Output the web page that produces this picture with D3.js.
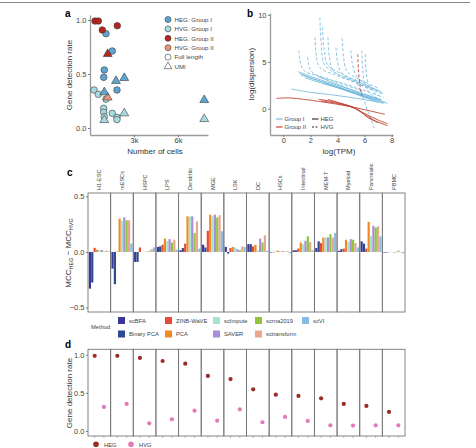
<!DOCTYPE html>
<html>
<head>
<meta charset="utf-8">
<script src="https://cdn.jsdelivr.net/npm/d3@7"></script>
<style>
  body { margin: 0; background: #fff; }
  svg text { font-family: "Liberation Sans", Arial, sans-serif; fill: #333; }
</style>
</head>
<body>
<div id="fig"></div>
<script>
// ---------- data ----------
// panel a: cells vs gene detection rate
const aPoints = [
  // HVG group I, full length
  {cells: 273, rate: 0.352, type: "HVG: Group I", proto: "full"},
  {cells: 566, rate: 0.312, type: "HVG: Group I", proto: "full"},
  {cells: 934, rate: 0.182, type: "HVG: Group I", proto: "full"},
  {cells: 934, rate: 0.145, type: "HVG: Group I", proto: "full"},
  {cells: 975, rate: 0.105, type: "HVG: Group I", proto: "full"},
  {cells: 1091, rate: 0.267, type: "HVG: Group I", proto: "full"},
  {cells: 1520, rate: 0.136, type: "HVG: Group I", proto: "full"},
  {cells: 1841, rate: 0.099, type: "HVG: Group I", proto: "full"},
  {cells: 1841, rate: 0.078, type: "HVG: Group I", proto: "full"},
  // HVG group I, UMI
  {cells: 975, rate: 0.074, type: "HVG: Group I", proto: "umi"},
  {cells: 2339, rate: 0.136, type: "HVG: Group I", proto: "umi"},
  {cells: 7793, rate: 0.083, type: "HVG: Group I", proto: "umi"},
  // HVG group II
  {cells: 1207, rate: 0.283, type: "HVG: Group II", proto: "umi"},
  // HEG group I
  {cells: 1091, rate: 0.873, type: "HEG: Group I", proto: "full"},
  {cells: 1520, rate: 0.713, type: "HEG: Group I", proto: "full"},
  {cells: 975, rate: 0.537, type: "HEG: Group I", proto: "full"},
  {cells: 934, rate: 0.469, type: "HEG: Group I", proto: "full"},
  {cells: 1841, rate: 0.352, type: "HEG: Group I", proto: "full"},
  {cells: 1773, rate: 0.435, type: "HEG: Group I", proto: "umi"},
  {cells: 2339, rate: 0.463, type: "HEG: Group I", proto: "umi"},
  {cells: 975, rate: 0.331, type: "HEG: Group I", proto: "umi"},
  {cells: 7793, rate: 0.259, type: "HEG: Group I", proto: "umi"},
  // HEG group II
  {cells: 341, rate: 0.99, type: "HEG: Group II", proto: "full"},
  {cells: 566, rate: 0.99, type: "HEG: Group II", proto: "full"},
  {cells: 839, rate: 0.907, type: "HEG: Group II", proto: "full"},
  {cells: 1861, rate: 0.947, type: "HEG: Group II", proto: "full"},
  {cells: 1207, rate: 0.685, type: "HEG: Group II", proto: "umi"}
];
const aTypes = ["HEG: Group I", "HVG: Group I", "HEG: Group II", "HVG: Group II"];
const aTypeColors = ["#5ea6d0", "#a8dbe0", "#b3261e", "#ef9478"];

// panel b: log(TPM) vs log(dispersion) curves
const bG1Heg = [
  [[1.1,3.95],[2.5,3.2],[4,2.5],[5.5,1.8],[7.3,0.9]],
  [[1.2,3.75],[2.5,3.05],[4,2.35],[5.5,1.6],[7.5,0.7]],
  [[1.3,3.6],[3,2.8],[4.5,2.1],[6,1.3],[7.4,0.55]],
  [[1.6,3.3],[3,2.65],[5,1.85],[6.5,1.15],[7.2,0.85]],
  [[0.6,2.1],[2,1.75],[3.5,1.5],[5,1.2],[6.5,0.85],[7.7,0.6]],
  [[2.6,3.4],[4,2.6],[5.5,1.75],[7,1.05]],
  [[3,2.7],[4.5,2.0],[6,1.25],[7.2,0.95]],
  [[4,2.25],[5.5,1.5],[7,0.65]]
];
const bG1Hvg = [
  [[1.15,6.2],[1.25,5],[1.5,4.1],[2.5,3.5],[4,2.8],[6,1.8]],
  [[1.8,5.5],[1.9,4.5],[2.2,3.8],[3.5,3.1],[5.5,2.2],[7,1.4]],
  [[2.35,7.6],[2.45,5.5],[2.7,4.4],[4,3.5],[5.5,2.7],[7.2,1.6]],
  [[2.7,9.7],[2.8,7],[3,4.8],[3.6,4.0],[5,3.1],[6.5,2.2],[7.5,1.5]],
  [[2.9,8.7],[3.0,6.5],[3.3,4.6],[4.5,3.6],[6,2.6],[7.2,1.8]],
  [[3.3,7.6],[3.4,5.5],[3.7,4.0],[5,3.0],[6.5,2.0]],
  [[3.9,6.5],[4.0,5.0],[4.3,3.8],[5.3,3.0],[6.8,2.0]],
  [[4.35,7.5],[4.45,5.5],[4.7,4.0],[5.5,3.2],[7,2.2]],
  [[5.0,6.2],[5.1,4.8],[5.4,3.5],[6.2,2.5],[7.3,1.8]],
  [[5.8,6.2],[5.85,4.5],[6.0,2.8],[6.4,1.6],[7.2,1.0]],
  [[6.05,5.8],[6.1,4.2],[6.3,2.6],[6.8,1.6],[7.4,1.2]],
  [[5.3,3.2],[5.8,1.5],[6.3,-0.5],[6.75,-2.2]]
];
const bG2Heg = [
  [[-0.5,1.1],[0.5,1.15],[1.5,1.0],[3,0.7],[4.5,0.35],[6,-0.1],[7.5,-0.6]],
  [[2.6,1.0],[3.5,0.8],[4.5,0.45],[5.3,0.05],[6,-0.6],[6.8,-1.3],[7.7,-1.8]],
  [[2.8,0.85],[4,0.55],[5,0.2],[6,-0.5],[7,-1.2],[7.7,-1.6]],
  [[3.3,1.0],[4.2,0.6],[5,0.25],[5.6,-0.2],[6.2,-0.9],[7,-1.5]]
];
const bG2Hvg = [
  [[5.5,5.8],[5.55,4.2],[5.65,2.6],[5.8,1.4]]
];

// panel c: MCC difference per dataset and method
const datasets = ["H1-ESC","mESCs","HSPC","LPS","Dendritic","MGE","LSK","DC","HSCs","Intestinal","MEM-T","Myeloid","Pancreatic","PBMC"];
const methods = ["scBFA","Binary PCA","ZINB-WaVE","PCA","scImpute","SAVER","scrna2019","sctransform","scVI"];
const methodColors = ["#3a3796","#2d4b8e","#e84a3a","#f28a22","#a7e3d1","#a88edb","#8fc43c","#e9a78f","#87bde5"];
const mccDiff = [
  [-0.33, -0.275, 0.037, 0.02, 0.018, 0.018, 0.004, 0.012, 0.006],
  [-0.15, -0.29, 0.004, 0.30, 0.28, 0.31, 0.285, 0.285, 0.075],
  [-0.09, -0.09, 0.04, 0.0, 0.002, 0.003, 0.01, 0.025, 0.04],
  [0.045, 0.05, 0.065, 0.12, 0.10, 0.115, 0.085, 0.11, 0.02],
  [0.015, 0.035, 0.075, 0.32, 0.32, 0.32, 0.17, 0.275, 0.03],
  [0.065, 0.04, 0.19, 0.335, 0.32, 0.335, 0.31, 0.33, 0.186],
  [0.045, -0.015, 0.035, 0.045, 0.04, 0.025, 0.015, 0.05, 0.045],
  [0.07, 0.07, 0.05, 0.065, 0.015, 0.12, 0.085, 0.15, 0.01],
  [-0.005, -0.003, 0.003, 0.012, 0.004, 0.008, 0.003, 0.009, -0.012],
  [0.015, 0.015, 0.03, 0.085, 0.07, 0.1, 0.14, 0.09, 0.015],
  [0.035, 0.095, 0.08, 0.13, 0.13, 0.13, 0.16, 0.13, 0.17],
  [0.01, 0.025, 0.03, 0.11, 0.09, 0.115, 0.11, 0.08, 0.04],
  [0.095, 0.075, 0.03, 0.27, 0.145, 0.235, 0.22, 0.23, 0.14],
  [-0.005, -0.005, -0.002, -0.002, -0.008, -0.004, 0.012, -0.004, -0.012]
];

// panel d: gene detection rate per dataset
const hegRate = [0.985,0.985,0.957,0.917,0.882,0.721,0.68,0.546,0.476,0.459,0.428,0.354,0.328,0.249];
const hvgRate = [0.315,0.354,0.10,0.153,0.266,0.135,0.284,0.114,0.184,0.131,0.074,0.07,0.074,0.074];

// ---------- drawing ----------
const W = 476, H = 448;
const svg = d3.select("#fig").append("svg")
    .attr("width", W).attr("height", H);

svg.append("line")
    .attr("x1", 0).attr("x2", 470).attr("y1", 2.5).attr("y2", 2.5)
    .attr("stroke", "#888").attr("stroke-width", 1);

function panelLabel(t, x, y) {
  svg.append("text").attr("x", x).attr("y", y)
    .style("font-size", "10px").style("font-weight", "bold").style("fill", "#000")
    .text(t);
}

function styleAxis(g) {
  g.selectAll(".domain").attr("stroke", "#9a9a9a").attr("stroke-width", 1.3);
  g.selectAll(".tick line").attr("stroke", "#777");
  g.selectAll(".tick text").style("font-size", "7.5px").style("fill", "#444");
}

// ----- panel a -----
const xa = d3.scaleLinear().domain([0, 8050]).range([90, 208]);
const ya = d3.scaleLinear().domain([-0.0648, 1.046]).range([135, 15]);
const colA = d3.scaleOrdinal().domain(aTypes).range(aTypeColors);

svg.append("g").attr("transform", "translate(90,0)")
  .call(d3.axisLeft(ya).tickValues([0, 0.5, 1]).tickFormat(d3.format(".1f")).tickSize(2).tickPadding(1.5).tickSizeOuter(0))
  .call(styleAxis);
svg.append("g").attr("transform", "translate(0,135)")
  .call(d3.axisBottom(xa).tickValues([3000, 6000]).tickFormat(d => d / 1000 + "k").tickSize(2).tickPadding(1).tickSizeOuter(0))
  .call(styleAxis);

const tri = d3.symbol().type(d3.symbolTriangle).size(34);
aPoints.forEach(p => {
  if (p.proto === "full") {
    svg.append("circle").attr("cx", xa(p.cells)).attr("cy", ya(p.rate)).attr("r", 3.3)
      .attr("fill", colA(p.type)).attr("stroke", "#3a3a3a").attr("stroke-width", 0.6);
  } else {
    svg.append("path").attr("d", tri)
      .attr("transform", `translate(${xa(p.cells)},${ya(p.rate)})`)
      .attr("fill", colA(p.type)).attr("stroke", "#3a3a3a").attr("stroke-width", 0.6);
  }
});

svg.append("text").attr("x", 155).attr("y", 153.5).attr("text-anchor", "middle")
  .style("font-size", "8px").text("Number of cells");
svg.append("text").attr("transform", "translate(72,75) rotate(-90)").attr("text-anchor", "middle")
  .style("font-size", "8px").text("Gene detection rate");
panelLabel("a", 65, 17);

// legend a
const legA = svg.append("g").attr("transform", "translate(168,19.5)");
const legItems = aTypes.map(t => ({label: t, fill: colA(t), shape: "c"}))
  .concat([{label: "Full length", fill: "#fff", shape: "c"}, {label: "UMI", fill: "#fff", shape: "t"}]);
legItems.forEach((d, i) => {
  const y = i * 9.4;
  if (d.shape === "c") {
    legA.append("circle").attr("cx", 0).attr("cy", y).attr("r", 3)
      .attr("fill", d.fill).attr("stroke", "#3a3a3a").attr("stroke-width", 0.6);
  } else {
    legA.append("path").attr("d", d3.symbol().type(d3.symbolTriangle).size(26))
      .attr("transform", `translate(0,${y})`)
      .attr("fill", d.fill).attr("stroke", "#3a3a3a").attr("stroke-width", 0.6);
  }
  legA.append("text").attr("x", 6.5).attr("y", y + 2.2)
    .style("font-size", "6.2px").style("fill", "#444").text(d.label);
});

// ----- panel b -----
const xb = d3.scaleLinear().domain([-0.98, 8.1]).range([270, 393]);
const yb = d3.scaleLinear().domain([-2.8, 10.2]).range([135, 13]);
svg.append("g").attr("transform", "translate(270,0)")
  .call(d3.axisLeft(yb).tickValues([0, 5, 10]).tickSize(2).tickPadding(1.5).tickSizeOuter(0))
  .call(styleAxis);
svg.append("g").attr("transform", "translate(0,135)")
  .call(d3.axisBottom(xb).tickValues([0, 2, 4, 6, 8]).tickSize(2).tickPadding(1).tickSizeOuter(0))
  .call(styleAxis);

const lineB = d3.line().x(d => xb(d[0])).y(d => yb(d[1])).curve(d3.curveCatmullRom.alpha(0.5));
const G1 = "#74b9dc", G2 = "#c0392b";
function drawB(set, color, dashed) {
  svg.append("g").selectAll("path").data(set).join("path")
    .attr("d", lineB).attr("fill", "none").attr("stroke", color)
    .attr("stroke-width", 0.85).attr("stroke-dasharray", dashed ? "3,2" : null);
}
drawB(bG1Hvg, G1, true);
drawB(bG1Heg, G1, false);
drawB(bG2Heg, G2, false);
drawB(bG2Hvg, G2, true);

svg.append("text").attr("x", 339).attr("y", 153.5).attr("text-anchor", "middle")
  .style("font-size", "8px").text("log(TPM)");
svg.append("text").attr("transform", "translate(254,74) rotate(-90)").attr("text-anchor", "middle")
  .style("font-size", "8px").text("log(dispersion)");
panelLabel("b", 247, 17);

const legB = svg.append("g");
[["Group I", G1, false, 276, 119], ["Group II", G2, false, 276, 127],
 ["HEG", "#222", false, 312, 119], ["HVG", "#222", true, 312, 127]].forEach(d => {
  legB.append("line").attr("x1", d[3]).attr("x2", d[3] + 6.5).attr("y1", d[4]).attr("y2", d[4])
    .attr("stroke", d[1]).attr("stroke-width", 1.1).attr("stroke-dasharray", d[2] ? "2,1.5" : null);
  legB.append("text").attr("x", d[3] + 8.5).attr("y", d[4] + 2)
    .style("font-size", "6px").style("fill", "#444").text(d[0]);
});

// ----- panel c -----
const fx = d3.scaleBand().domain(datasets).range([88, 405]);
const yc = d3.scaleLinear().domain([-0.54, 0.53]).range([312, 193]);
const mx = d3.scaleBand().domain(methods).range([0.8, fx.bandwidth() - 0.8]).paddingInner(0.06);
const colM = d3.scaleOrdinal().domain(methods).range(methodColors);

svg.append("g").attr("transform", "translate(88,0)")
  .call(d3.axisLeft(yc).tickValues([-0.5, 0, 0.5]).tickFormat(d3.format(".1f")).tickSize(2).tickPadding(1.5).tickSizeOuter(0))
  .call(g => g.select(".domain").remove())
  .call(styleAxis);

datasets.forEach((ds, i) => {
  const g = svg.append("g").attr("transform", `translate(${fx(ds)},0)`);
  g.selectAll("rect.bar").data(mccDiff[i]).join("rect")
    .attr("class", "bar")
    .attr("x", (v, j) => mx(methods[j]))
    .attr("width", mx.bandwidth())
    .attr("y", v => yc(Math.max(0, v)))
    .attr("height", v => Math.abs(yc(v) - yc(0)))
    .attr("fill", (v, j) => colM(methods[j]));
  g.append("rect").attr("x", 0).attr("y", 193).attr("width", fx.bandwidth()).attr("height", 119)
    .attr("fill", "none").attr("stroke", "#777").attr("stroke-width", 0.9);
  g.append("text")
    .attr("transform", `translate(${fx.bandwidth() / 2 + 2},190) rotate(-90)`)
    .style("font-size", "5.6px").style("fill", "#444").text(ds);
});

const ylabC = svg.append("text").attr("transform", "translate(71,253) rotate(-90)")
  .attr("text-anchor", "middle").style("font-size", "8px");
ylabC.append("tspan").text("MCC");
ylabC.append("tspan").attr("dy", 2).style("font-size", "5.5px").text("HEG");
ylabC.append("tspan").attr("dy", -2).text(" \u2212 MCC");
ylabC.append("tspan").attr("dy", 2).style("font-size", "5.5px").text("HVG");
panelLabel("c", 67, 176);

// legend c
svg.append("text").attr("x", 91).attr("y", 329).style("font-size", "5.8px").style("fill", "#444").text("Method");
const legColX = [118, 165, 213, 255, 302];
methods.forEach((m, i) => {
  const cx = legColX[Math.floor(i / 2)], cy = i % 2 === 0 ? 320.5 : 334;
  svg.append("rect").attr("x", cx).attr("y", cy - 3.5).attr("width", 7).attr("height", 7).attr("fill", colM(m));
  svg.append("text").attr("x", cx + 11).attr("y", cy + 2)
    .style("font-size", "5.8px").style("fill", "#444").text(m);
});

// ----- panel d -----
const yd = d3.scaleLinear().domain([-0.066, 1.07]).range([436, 349.3]);
const px = d3.scalePoint().domain(["HEG", "HVG"]).range([0, fx.bandwidth()]).padding(0.72);
svg.append("g").attr("transform", "translate(88,0)")
  .call(d3.axisLeft(yd).tickValues([0, 0.5, 1]).tickFormat(d3.format(".1f")).tickSize(2).tickPadding(1.5).tickSizeOuter(0))
  .call(g => g.select(".domain").remove())
  .call(styleAxis);

datasets.forEach((ds, i) => {
  const g = svg.append("g").attr("transform", `translate(${fx(ds)},0)`);
  g.append("rect").attr("x", 0).attr("y", 349.3).attr("width", fx.bandwidth()).attr("height", 86.7)
    .attr("fill", "none").attr("stroke", "#777").attr("stroke-width", 0.9);
  ["HEG", "HVG"].forEach(k => {
    g.append("line").attr("x1", px(k)).attr("x2", px(k)).attr("y1", 436).attr("y2", 438)
      .attr("stroke", "#888").attr("stroke-width", 0.6);
  });
  g.append("circle").attr("cx", px("HEG")).attr("cy", yd(hegRate[i])).attr("r", 2.1).attr("fill", "#9c2b24");
  g.append("circle").attr("cx", px("HVG")).attr("cy", yd(hvgRate[i])).attr("r", 2.1).attr("fill", "#e27ab8");
});

svg.append("text").attr("transform", "translate(72,393) rotate(-90)").attr("text-anchor", "middle")
  .style("font-size", "8px").text("Gene detection rate");
panelLabel("d", 65, 348);

[["HEG", "#9c2b24", 96], ["HVG", "#e27ab8", 131]].forEach(d => {
  svg.append("circle").attr("cx", d[2]).attr("cy", 444.3).attr("r", 2.8).attr("fill", d[1]);
  svg.append("text").attr("x", d[2] + 8).attr("y", 446.5)
    .style("font-size", "5.8px").style("fill", "#444").text(d[0]);
});
</script>
</body>
</html>
